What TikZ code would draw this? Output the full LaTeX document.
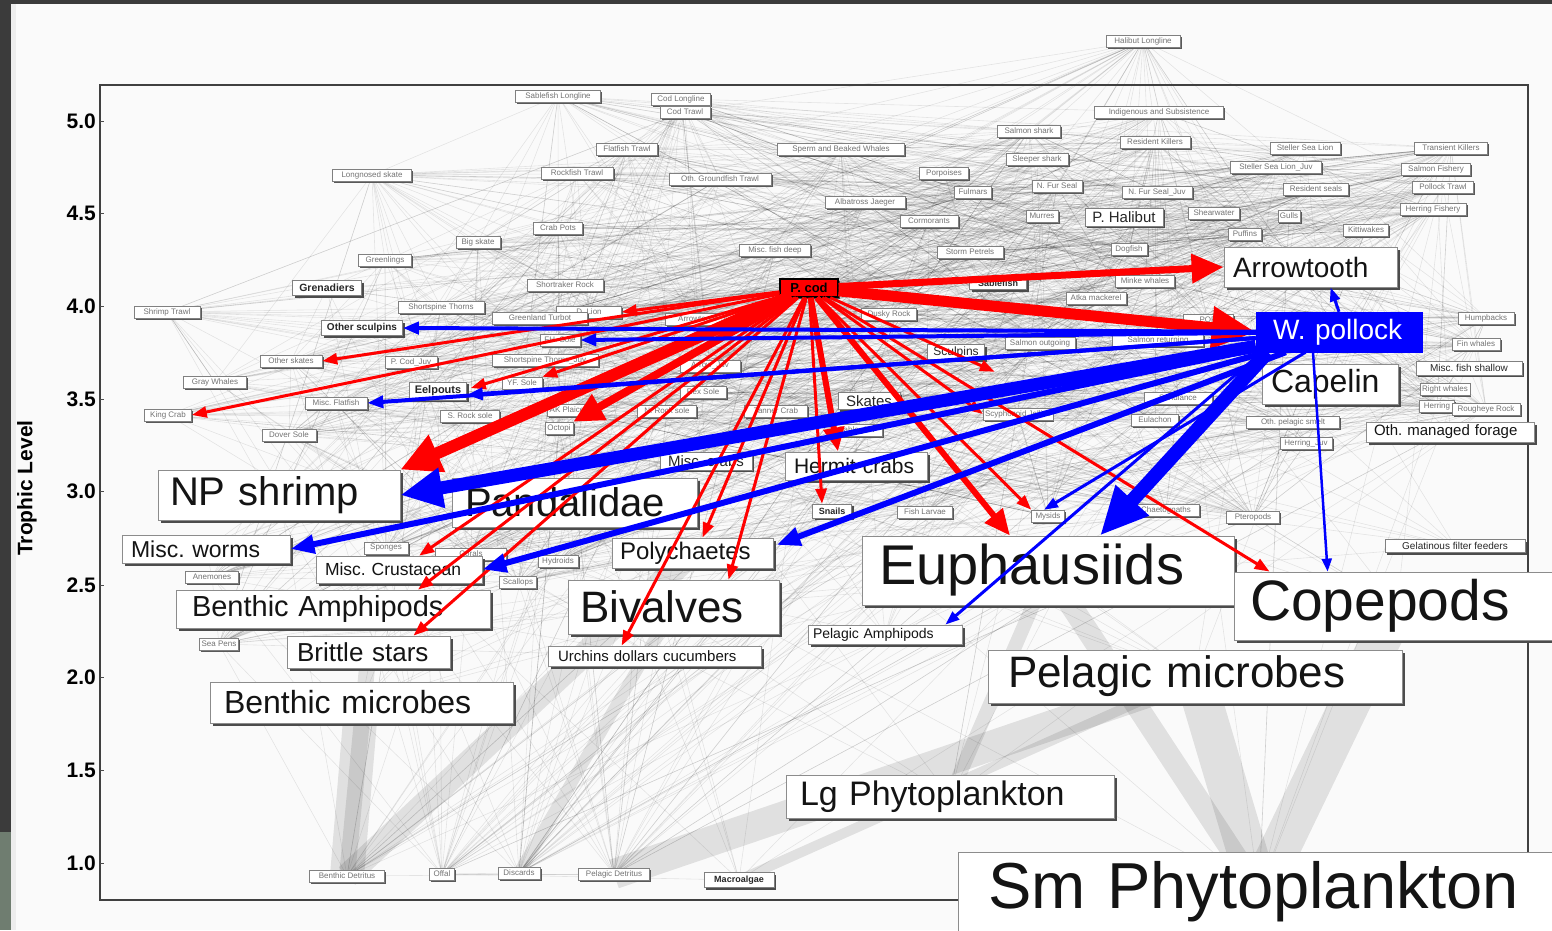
\documentclass[tikz,border=0pt]{standalone}
\usepackage{fontspec}
\setmainfont{Liberation Sans}
\setsansfont{Liberation Sans}
\usetikzlibrary{arrows.meta,shadows,calc}
\pgfdeclarelayer{web}
\pgfdeclarelayer{links}
\pgfsetlayers{web,main,links}
\newcommand\fsz[1]{\fontsize{#1}{#1}\selectfont}
\definecolor{pagebg}{HTML}{FAFAFA}
\definecolor{edgedark}{HTML}{3B3B3B}
\definecolor{edgegreen}{HTML}{6F7D70}
\definecolor{pbred}{HTML}{FF0000}
\definecolor{pbblue}{HTML}{0000FF}
\frenchspacing

\begin{document}
\begin{tikzpicture}[x=1pt,y=-1pt,
  bigbox/.style={draw=black!45, line width=0.8pt, fill=white,
    drop shadow={shadow xshift=3pt,shadow yshift=-3pt,fill=black!70,opacity=1},
    inner ysep=0pt, align=left, text=black!92},
  midbox/.style={draw=black!50, line width=0.6pt, fill=white,
    drop shadow={shadow xshift=2pt,shadow yshift=-2pt,fill=black!70,opacity=1},
    inner sep=0pt, text=black!85},
  smallbox/.style={draw=black!50, line width=0.5pt, fill=white,
    drop shadow={shadow xshift=1.5pt,shadow yshift=-1.5pt,fill=black!65,opacity=1},
    inner xsep=2pt, inner ysep=0pt, minimum height=12pt, font=\fsz{8}, text=black!55},
  webline/.style={draw=black, opacity=0.09, line width=0.6pt},
  band/.style={draw=black, opacity=0.10, line width=#1},
  redlink/.style n args={3}{draw=pbred, line width=#1, -{Triangle[length=#2,width=#3]}},
  bluelink/.style n args={3}{draw=pbblue, line width=#1, -{Triangle[length=#2,width=#3]}},
  tick/.style={font=\bfseries\fsz{21}, anchor=east, inner sep=0pt}
]
\useasboundingbox (0,0) rectangle (1552,930);
\begin{pgfonlayer}{web}
  \fill[pagebg] (0,0) rectangle (1552,930);
\end{pgfonlayer}

% window edges
\fill[edgedark] (0,0) rectangle (1552,4);
\fill[edgedark] (0,0) rectangle (11,832);
\fill[edgegreen] (0,832) rectangle (11,930);
\fill[black!7] (11,4) rectangle (16,930);

% axes
\draw[black!75, line width=1.3pt] (100,85) rectangle (1528,900);
\foreach \v/\yy in {5.0/121,4.5/213,4.0/306,3.5/399,3.0/491,2.5/585,2.0/677,1.5/770,1.0/863}{
  \node[tick] (tk\yy) at (96,\yy) {\v};
  \draw[black!70, line width=0.8pt] (100,\yy) -- (104,\yy);
}
\node[rotate=90, font=\bfseries\fsz{21}] (ylab) at (27,488) {Trophic Level};

% minor groups
\foreach \x/\y/\w/\t [count=\i] in {
 1143/41/74/Halibut Longline, 558/96/85/Sablefish Longline, 681/99/59/Cod Longline,
 685/112/50/Cod Trawl, 1159/112/129/Indigenous and Subsistence, 1029/131/63/Salmon shark,
 1155/142/70/Resident Killers, 1305/148/70/Steller Sea Lion, 1451/148/73/Transient Killers,
 627/149/61/Flatfish Trawl, 841/149/127/Sperm and Beaked Whales, 1037/159/62/Sleeper shark,
 1276/167/91/Steller Sea Lion\_Juv, 1436/169/69/Salmon Fishery, 372/175/79/Longnosed skate,
 577/173/72/Rockfish Trawl, 720/179/102/Oth. Groundfish Trawl, 944/173/49/Porpoises,
 1057/186/50/N. Fur Seal, 973/192/37/Fulmars, 1157/192/70/N. Fur Seal\_Juv,
 1316/189/65/Resident seals, 1443/187/61/Pollock Trawl, 865/202/80/Albatross Jaeger,
 1042/216/32/Murres, 1214/213/51/Shearwater, 1289/216/22/Gulls,
 1433/209/66/Herring Fishery, 929/221/58/Cormorants, 1245/234/33/Puffins,
 1366/230/45/Kittiwakes, 558/228/49/Crab Pots, 478/242/44/Big skate,
 775/250/71/Misc. fish deep, 970/252/66/Storm Petrels, 1129/249/36/Dogfish,
 385/260/53/Greenlings, 565/285/76/Shortraker Rock, 1145/281/59/Minke whales,
 167/312/66/Shrimp Trawl, 441/307/86/Shortspine Thorns, 589/312/65/D. Lion,
 540/318/95/Greenland Turbot, 706/319/82/Arrowtooth\_Juv, 889/314/55/Dusky Rock,
 1208/320/50/POP, 560/340/40/FH. Sole, 1158/340/91/Salmon returning,
 1040/343/70/Salmon outgoing, 291/361/62/Other skates, 411/362/52/P. Cod\_Juv,
 545/360/106/Shortspine Thorns\_Juv, 710/366/60/Arrow\_Juv, 215/382/63/Gray Whales,
 522/383/40/YF. Sole, 703/392/46/Rex Sole, 336/403/62/Misc. Flatfish,
 168/415/47/King Crab, 470/416/59/S. Rock sole, 567/410/30/AK Plaice,
 667/411/59/N. Rock sole, 776/411/63/Tanner Crab, 857/430/51/Sable\_Juv,
 559/428/28/Octopi, 289/435/54/Dover Sole, 1018/414/67/Scyphozoid Jellies,
 1155/420/47/Eulachon, 1178/398/68/Sandlance, 1293/422/93/Oth. pelagic smelt,
 1306/443/52/Herring\_Juv, 1437/406/35/Herring, 1445/389/42/Right whales,
 1486/409/68/Rougheye Rock, 1476/344/48/Fin whales, 1486/318/56/Humpbacks,
 925/512/55/Fish Larvae, 1048/516/33/Mysids, 1166/510/67/Chaetognaths,
 1253/517/53/Pteropods, 386/548/44/Sponges, 212/577/53/Anemones,
 471/554/71/Corals, 558/561/40/Hydroids, 518/582/37/Scallops,
 219/644/38/Sea Pens, 347/876/75/Benthic Detritus, 442/874/25/Offal,
 519/873/42/Discards, 614/874/71/Pelagic Detritus, 1096/298/60/Atka mackerel}{
  \node[smallbox, minimum width=\w pt] (w\i) at (\x,\y) {\t};
}

% named mid-size groups
\node[midbox, font=\bfseries\fsz{10.5}, minimum width=69pt, minimum height=15pt] (grenad) at (327,288) {Grenadiers};
\node[midbox, font=\bfseries\fsz{10}, minimum width=81pt, minimum height=15pt] (othsculp) at (362,328) {Other sculpins};
\node[midbox, font=\bfseries\fsz{11}, minimum width=57pt, minimum height=18pt] (eelpouts) at (438,391) {Eelpouts};
\node[midbox, font=\bfseries\fsz{9}, minimum width=57pt, minimum height=13pt] (sablef) at (998,283) {Sablefish};
\node[midbox, font=\bfseries\fsz{9}, minimum width=39pt, minimum height=14pt] (snails) at (832,511) {Snails};
\node[midbox, font=\bfseries\fsz{9}, minimum width=70pt, minimum height=15pt] (macro) at (739,880) {Macroalgae};
\node[midbox, font=\fsz{12}, minimum width=57pt, minimum height=15pt] (sculpins) at (956,352) {Sculpins};
\node[midbox, font=\fsz{15}, minimum width=62pt, minimum height=17pt] (skates) at (869,401) {Skates};
\node[midbox, font=\fsz{15}, minimum width=92pt, minimum height=18pt] (misccrabs) at (706,461) {Misc. crabs};
\node[midbox, font=\fsz{10}, minimum width=106pt, minimum height=14pt] (mfshallow) at (1469,368) {Misc. fish shallow};
\node[midbox, font=\fsz{10}, minimum width=140pt, minimum height=13pt] (gelat) at (1455,546) {Gelatinous filter feeders};
\node[midbox, font=\fsz{15}, minimum width=78pt, minimum height=18pt] (phalibut) at (1124,217) {P. Halibut};

% major groups
\node[bigbox, font=\fsz{40}, text width=218pt, inner xsep=12pt, minimum height=50pt] (npshrimp) at (279,495) {NP shrimp};
\node[bigbox, font=\fsz{40}, text width=219pt, inner xsep=13pt, minimum height=49pt] (pandal) at (574.5,502.5) {Pandalidae};
\node[bigbox, font=\fsz{23}, text width=150pt, inner xsep=9pt, minimum height=28pt] (miscworms) at (206,549) {Misc. worms};
\node[bigbox, font=\fsz{17.5}, text width=148pt, inner xsep=9pt, minimum height=27pt] (misccrust) at (399,569.5) {Misc. Crustacean};
\node[bigbox, font=\fsz{29}, text width=282pt, inner xsep=16pt, minimum height=38pt] (bamph) at (333,609) {Benthic Amphipods};
\node[bigbox, font=\fsz{26}, text width=143pt, inner xsep=10pt, minimum height=32pt] (brittle) at (368.5,652) {Brittle stars};
\node[bigbox, font=\fsz{32}, text width=275pt, inner xsep=14pt, minimum height=41pt] (bmic) at (361.5,702.5) {Benthic microbes};
\node[bigbox, font=\fsz{24}, text width=145pt, inner xsep=8pt, minimum height=30pt] (poly) at (692.5,553) {Polychaetes};
\node[bigbox, font=\fsz{44}, text width=187pt, inner xsep=12pt, minimum height=54pt] (bival) at (673.5,607) {Bivalves};
\node[bigbox, font=\fsz{15}, text width=193pt, inner xsep=10pt, minimum height=20pt] (urchins) at (654.5,656) {Urchins dollars cucumbers};
\node[bigbox, font=\fsz{21}, text width=124pt, inner xsep=9pt, minimum height=28pt] (hermit) at (856,466) {Hermit crabs};
\node[bigbox, font=\fsz{56}, text width=338pt, inner xsep=17pt, minimum height=69pt] (euph) at (1048,570.5) {Euphausiids};
\node[bigbox, font=\fsz{57}, text width=294pt, inner xsep=16pt, minimum height=68pt] (copep) at (1397,606) {Copepods};
\node[bigbox, font=\fsz{14}, text width=144pt, inner xsep=5pt, minimum height=19pt] (pamph) at (885,634.5) {Pelagic Amphipods};
\node[bigbox, font=\fsz{44}, text width=374pt, inner xsep=20pt, minimum height=53pt] (pmic) at (1195,676.5) {Pelagic microbes};
\node[bigbox, font=\fsz{34}, text width=300pt, inner xsep=14pt, minimum height=43pt] (lgphyto) at (950,796.5) {Lg Phytoplankton};
\node[bigbox, font=\fsz{65}, text width=542pt, inner xsep=30pt, minimum height=80pt] (smphyto) at (1259,892) {Sm Phytoplankton};
\node[bigbox, font=\fsz{28}, text width=155pt, inner xsep=9pt, minimum height=40pt] (arrowtooth) at (1310.5,267) {Arrowtooth};
\node[bigbox, font=\fsz{32}, text width=118pt, inner xsep=9pt, minimum height=40pt] (capelin) at (1330,384) {Capelin};
\node[bigbox, font=\fsz{15}, text width=152pt, inner xsep=8pt, minimum height=20pt] (othforage) at (1450,432) {Oth. managed forage};

% focal predators
\node[draw=black, line width=1.2pt, fill=pbred, minimum width=58pt, minimum height=18pt, inner sep=0pt,
  font=\bfseries\fsz{13}, text=black,
  drop shadow={shadow xshift=2pt,shadow yshift=-2pt,fill=black!70,opacity=1}] (pcod) at (809,288) {P. cod};
\node[fill=pbblue, draw=pbblue, text=white, font=\fsz{28}, text width=132pt, inner xsep=17pt, inner ysep=0pt,
  minimum height=40pt, align=left] (wpol) at (1339,332) {W. pollock};

% background food web
\begin{pgfonlayer}{web}
  \pgfmathsetseed{2024}
  \foreach \k in {1,...,1300}{
    \pgfmathrandominteger{\ra}{1}{90}
    \pgfmathrandominteger{\rb}{1}{90}
    \draw[webline] (w\ra.center) -- (w\rb.center);
  }
  \foreach \n in {npshrimp,pandal,miscworms,misccrust,bamph,brittle,bmic,poly,bival,urchins,hermit,
                  euph,copep,pamph,pmic,lgphyto,smphyto,arrowtooth,capelin,othforage,pcod,wpol,
                  grenad,othsculp,eelpouts,sablef,snails,macro,sculpins,skates,misccrabs,mfshallow,gelat,phalibut}{
    \foreach \j in {1,...,8}{
      \pgfmathrandominteger{\ra}{1}{90}
      \draw[webline] (\n.center) -- (w\ra.center);
    }
  }
  \draw[band=34pt] (w86.center) -- (bmic.center);
  \draw[band=24pt] (w86.center) -- (poly.center);
  \draw[band=16pt] (w86.center) -- (brittle.center);
  \draw[band=12pt] (w88.center) -- (bival.center);
  \draw[band=30pt] (w89.center) -- (pmic.center);
  \draw[band=40pt] (smphyto.center) -- (pmic.center);
  \draw[band=40pt] (smphyto.center) -- (copep.center);
  \draw[band=22pt] (smphyto.center) -- (euph.center);
  \draw[band=14pt] (lgphyto.center) -- (euph.center);
  \draw[band=10pt] (macro.center) -- (pmic.center);
\end{pgfonlayer}

% diet links
\begin{pgfonlayer}{links}
  % P. cod
  \draw[redlink={11pt}{44pt}{40pt}] (pcod) -- (wpol.west);
  \draw[redlink={7pt}{32pt}{28pt}] (pcod) -- (arrowtooth.west);
  \draw[redlink={12pt}{40pt}{38pt}] (pcod) -- (npshrimp.north east);
  \draw[redlink={8pt}{30pt}{28pt}] (pcod) -- (w64.north east);
  \draw[redlink={6pt}{24pt}{20pt}] (pcod) -- ($(hermit.north)+(-18,0)$);
  \draw[redlink={6pt}{26pt}{22pt}] (pcod) -- ($(euph.north)+(-38,0)$);
  \foreach \tg in {w42.east, w50.east, w58.east, w55.north east, misccrust, w77.north west, w66.west}{
    \draw[redlink={3pt}{15pt}{11pt}] (pcod) -- (\tg);
  }
  \draw[redlink={3pt}{15pt}{11pt}] (pcod) -- ($(eelpouts.east)+(4,-3)$);
  \draw[redlink={3pt}{15pt}{11pt}] (pcod) -- ($(bamph.north)+(85,0)$);
  \draw[redlink={3pt}{15pt}{11pt}] (pcod) -- ($(brittle.north)+(45,0)$);
  \draw[redlink={3pt}{15pt}{11pt}] (pcod) -- ($(urchins.north west)+(74,0)$);
  \draw[redlink={3pt}{15pt}{11pt}] (pcod) -- ($(poly.north)+(10,0)$);
  \draw[redlink={3pt}{15pt}{11pt}] (pcod) -- ($(bival.north)+(55,0)$);
  \draw[redlink={3pt}{15pt}{11pt}] (pcod) -- ($(snails.north)+(-10,0)$);
  \draw[redlink={3pt}{15pt}{11pt}] (pcod) -- ($(copep.north west)+(36,0)$);
  \draw[redlink={3pt}{15pt}{11pt}] (pcod) -- ($(sculpins.south east)+(10,12)$);
  % W. pollock
  \draw[bluelink={4pt}{16pt}{12pt}] (wpol) -- (othsculp.east);
  \draw[bluelink={4pt}{16pt}{12pt}] (wpol) -- (w47.east);
  \draw[bluelink={4pt}{16pt}{12pt}] (wpol) -- ($(eelpouts.east)+(0,4)$);
  \draw[bluelink={4pt}{16pt}{12pt}] (wpol) -- (w57.east);
  \draw[bluelink={13pt}{42pt}{38pt}] (wpol) -- (npshrimp.east);
  \draw[bluelink={6pt}{24pt}{18pt}] (wpol) -- (miscworms.east);
  \draw[bluelink={6pt}{24pt}{18pt}] (wpol) -- (misccrust.east);
  \draw[bluelink={6pt}{24pt}{18pt}] (wpol) -- ($(poly.east)+(3,-8)$);
  \draw[bluelink={3pt}{14pt}{10pt}] (wpol) -- ($(w77.north)+(-4,0)$);
  \draw[bluelink={3pt}{14pt}{10pt}] ($(wpol.south west)+(6,0)$) -- ($(pamph.north east)+(-17,0)$);
  \draw[bluelink={14pt}{48pt}{42pt}] ($(wpol.south west)+(12,0)$) -- ($(euph.north)+(52,0)$);
  \draw[bluelink={2.5pt}{13pt}{10pt}] ($(wpol.south)+(-26,0)$) -- ($(copep.north west)+(94,0)$);
  \draw[bluelink={3pt}{14pt}{10pt}] (wpol.north) -- ($(arrowtooth.south)+(20,0)$);
\end{pgfonlayer}
\end{tikzpicture}
\end{document}
